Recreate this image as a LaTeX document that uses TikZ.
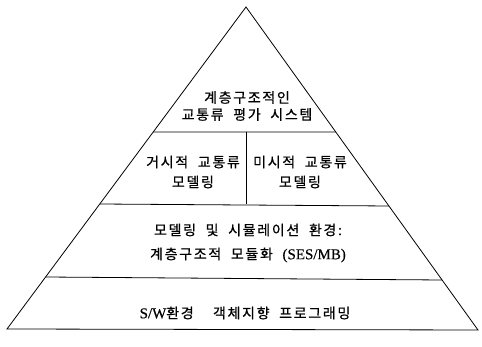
\documentclass[tikz,border=0pt]{standalone}
\usepackage{fontspec}
\usetikzlibrary{calc}
\newfontfamily\krfont[LetterSpace=12,WordSpace=2,FakeBold=0.6]{Noto Sans CJK KR}
\newfontfamily\latfont[FakeBold=0.4]{Liberation Serif}
\tikzset{
  edge/.style={line width=0.8pt, black},
  lbl/.style={font=\fontsize{14}{16}\krfont, align=center, inner sep=0pt},
}
\newcommand{\lt}[1]{{\latfont\fontsize{15}{16}\selectfont #1}}
\begin{document}
\begin{tikzpicture}[x=1pt,y=1pt]
\useasboundingbox (0,0) rectangle (482,347);
\coordinate (A) at (246,340);
\coordinate (BL) at (7,18);
\coordinate (BR) at (478,17);
% layer boundaries on the edges
\coordinate (L1) at ($(BL)!{197/322}!(A)$);
\coordinate (R1) at ($(BR)!{198/323}!(A)$);
\coordinate (L2) at ($(BL)!{125/322}!(A)$);
\coordinate (R2) at ($(BR)!{124/323}!(A)$);
\coordinate (L3) at ($(BL)!{52/322}!(A)$);
\coordinate (R3) at ($(BR)!{50/323}!(A)$);
\coordinate (D1) at (246,215);
\coordinate (D2) at (246,143);
\draw[edge, line join=miter] (A) -- (BR) -- (BL) -- cycle;
\draw[edge] (L1) -- (R1);
\draw[edge] (L2) -- (R2);
\draw[edge] (L3) -- (R3);
\draw[edge] (D1) -- (D2);
\node[lbl] (t1) at (247,241) {계층구조적인\\[1pt]교통류 평가 시스템};
\node[lbl] (t2) at (193,175) {거시적 교통류\\[4pt]모델링};
\node[lbl] (t3) at (300,175) {미시적 교통류\\[4pt]모델링};
\node[lbl] (t4) at (248,104) {모델링 및 시뮬레이션 환경:\\[8pt]계층구조적 모듈화 \lt{(SES/MB)}};
\node[lbl] (t5) at (245,34) {\lt{S/W}환경\ \ 객체지향 프로그래밍};
\end{tikzpicture}
\end{document}
